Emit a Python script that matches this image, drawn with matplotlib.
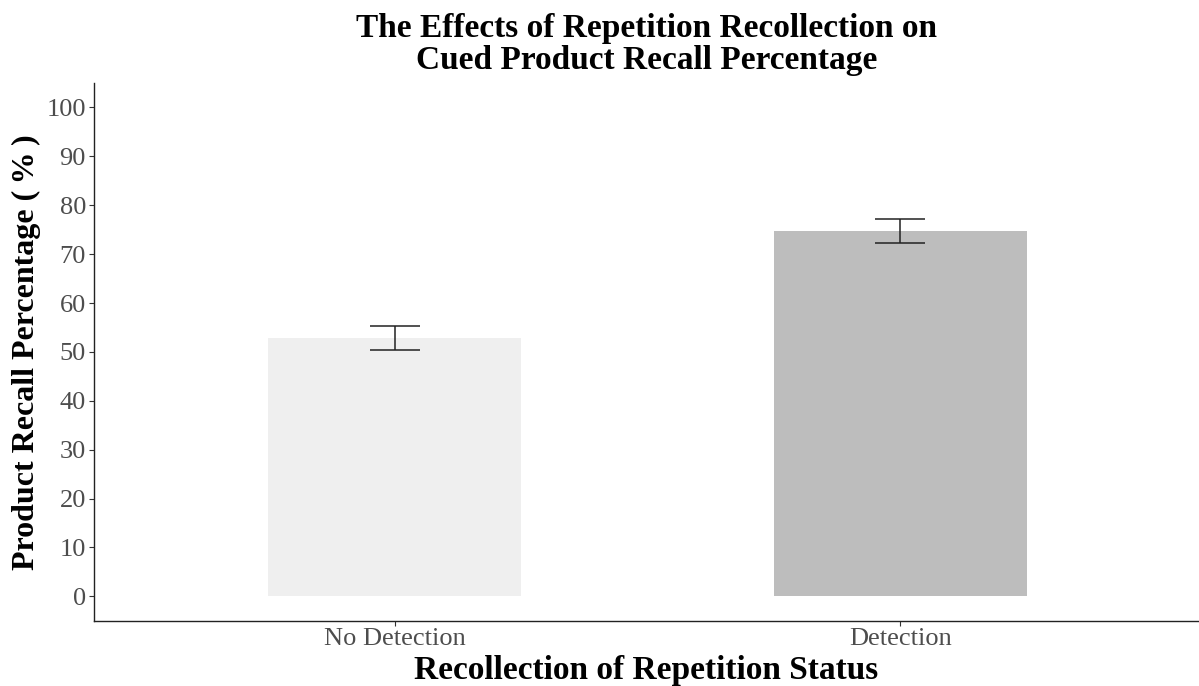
import matplotlib.pyplot as plt

categories = ['No Detection', 'Detection']
recall_pct = [52.9, 74.7]
err_low = [50.3, 72.3]
err_high = [55.4, 77.2]
bar_colors = ['#efefef', '#bdbdbd']
yticks = list(range(0, 101, 10))

plt.rcParams['font.family'] = ['Liberation Serif', 'DejaVu Serif']

fig, ax = plt.subplots(figsize=(11.99, 6.86), dpi=100)
fig.subplots_adjust(left=0.078, right=1.0, top=0.879, bottom=0.095)

x = [1, 2]
ax.bar(x, recall_pct, width=0.5, color=bar_colors, zorder=1)
lower = [v - lo for v, lo in zip(recall_pct, err_low)]
upper = [hi - v for v, hi in zip(recall_pct, err_high)]
ax.errorbar(x, recall_pct, yerr=[lower, upper], fmt='none', ecolor='#222222',
            elinewidth=1.1, capsize=18, capthick=1.1, zorder=2)

ax.set_xlim(0.405, 2.59)
ax.set_ylim(-5, 105)
ax.set_xticks(x)
ax.set_xticklabels(categories)
ax.set_yticks(yticks)
ax.tick_params(axis='both', labelsize=19, labelcolor='#4d4d4d', color='#333333',
               length=3.5, width=0.8, pad=2)

for side in ['top', 'right']:
    ax.spines[side].set_visible(False)
for side in ['left', 'bottom']:
    ax.spines[side].set_color('#222222')
    ax.spines[side].set_linewidth(1.0)

ax.set_xlabel('Recollection of Repetition Status', fontsize=24, fontweight='bold', labelpad=3)
ax.set_ylabel('Product Recall Percentage (\u2009%\u2009)', fontsize=23, fontweight='bold', labelpad=4)
ax.set_title('The Effects of Repetition Recollection on\nCued Product Recall Percentage',
             fontsize=24, fontweight='bold', linespacing=1.05, pad=10)

plt.savefig('out.png', dpi=100)
